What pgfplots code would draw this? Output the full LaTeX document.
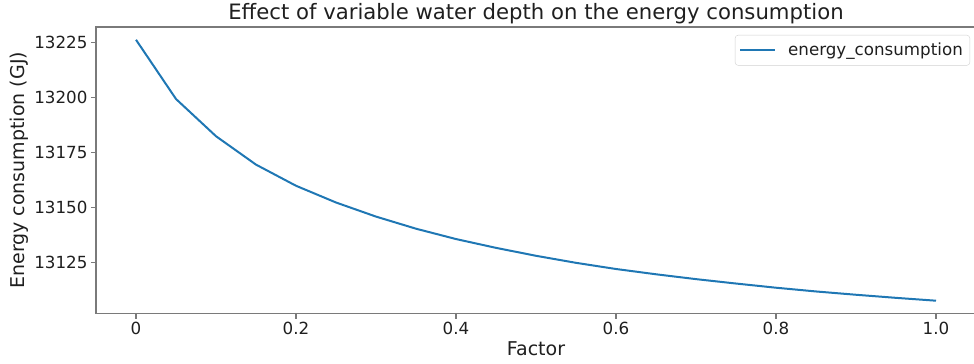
\documentclass[border=0pt]{standalone}
\usepackage{fontspec}
\setmainfont{DejaVu Sans}
\usepackage{pgfplots}
\pgfplotsset{compat=1.18}
\definecolor{mplblue}{HTML}{1F77B4}
\definecolor{spine}{HTML}{7A7A7A}
\begin{document}
\begin{tikzpicture}
\begin{axis}[
  scale only axis,
  width=880bp, height=286.7bp,
  xmin=-0.05, xmax=1.05,
  ymin=13101.7, ymax=13231.9,
  scaled ticks=false,
  axis line style={spine, line width=1.3bp},
  tick style={spine, line width=1.1bp},
  tick align=outside,
  major tick length=5bp,
  xtick={0,0.2,0.4,0.6,0.8,1.0},
  xticklabels={0,0.2,0.4,0.6,0.8,1.0},
  ytick={13125,13150,13175,13200,13225},
  yticklabels={13125,13150,13175,13200,13225},
  xtick pos=bottom, ytick pos=left,
  ticklabel style={font=\fontsize{16.7bp}{20bp}\selectfont, text=black!88},
  title={Effect of variable water depth on the energy consumption},
  title style={at={(axis description cs:0.5,1.0070)}, anchor=base, font=\fontsize{21.2bp}{24bp}\selectfont, text=black!88},
  xlabel={Factor},
  xlabel style={at={(axis description cs:0.5,-0.1441)}, anchor=base, font=\fontsize{19bp}{22bp}\selectfont, text=black!88},
  ylabel={Energy consumption (GJ)},
  ylabel style={at={(axis description cs:-0.0818,0.5)}, anchor=base, font=\fontsize{19bp}{22bp}\selectfont, text=black!88},
  legend style={at={(axis description cs:1,1)}, anchor=north east, xshift=-6bp, yshift=-8bp,
    draw=black!18, rounded corners=3bp, inner xsep=4bp, inner ysep=5bp,
    nodes={inner sep=3bp},
    font=\fontsize{16.7bp}{20bp}\selectfont, text=black!88},
  legend cell align=left,
  legend image code/.code={\draw[#1] (0bp,0bp) -- (35bp,0bp); \path (44bp,0bp);},
]
\addplot[mplblue, line width=2bp] coordinates {
(0.00,13226.1) (0.05,13199.2) (0.10,13182.3) (0.15,13169.4) (0.20,13159.8)
(0.25,13152.2) (0.30,13145.8) (0.35,13140.3) (0.40,13135.6) (0.45,13131.6)
(0.50,13128.0) (0.55,13124.8) (0.60,13122.0) (0.65,13119.6) (0.70,13117.4)
(0.75,13115.4) (0.80,13113.5) (0.85,13111.8) (0.90,13110.3) (0.95,13108.9)
(1.00,13107.6)
};
\addlegendentry{energy\_consumption}
\end{axis}
\pgfresetboundingbox
\path[use as bounding box] ([xshift=-96bp,yshift=-50.3bp]current axis.south west) rectangle ([xshift=-2bp,yshift=27bp]current axis.north east);
\end{tikzpicture}
\end{document}
